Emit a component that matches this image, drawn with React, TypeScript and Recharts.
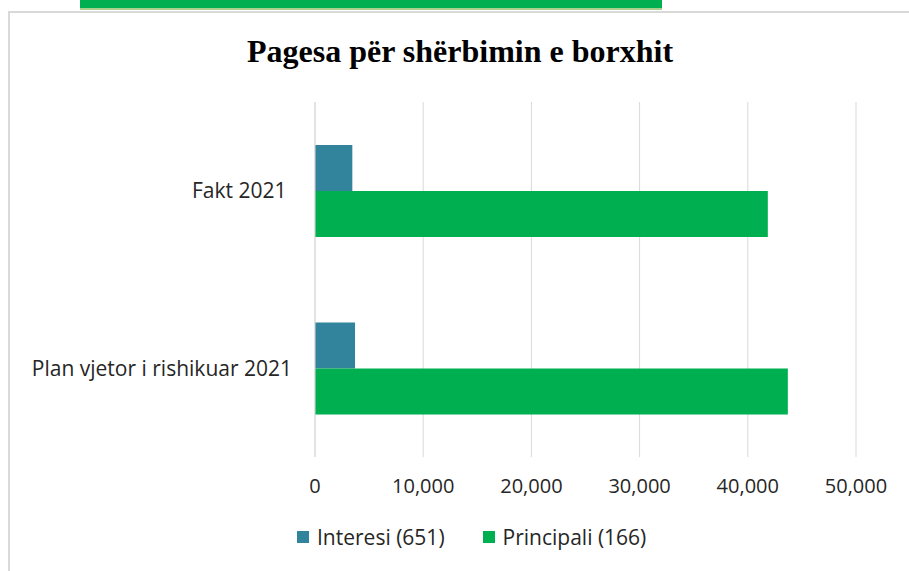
import React from 'react';
import { BarChart, Bar, XAxis, YAxis, CartesianGrid } from 'recharts';

// categories, top to bottom as drawn
const CATEGORIES = ['Fakt 2021\u00a0', 'Plan vjetor i rishikuar 2021'];
const INTERESI = [3450, 3700];
const PRINCIPALI = [41850, 43700];
const X_TICKS = [0, 10000, 20000, 30000, 40000, 50000];

const SERIES = [
  { key: 'interesi', name: 'Interesi (651)', color: '#31849B' },
  { key: 'principali', name: 'Principali (166)', color: '#00B050' },
];

const TEXT = '#262626';
const GRID = '#D9D9D9';
const FONT = '"Open Sans", "Noto Sans", sans-serif';

const chartData = CATEGORIES.map((name, i) => ({
  name,
  interesi: INTERESI[i],
  principali: PRINCIPALI[i],
}));

export default function App() {
  return (
    <div
      style={{
        position: 'absolute',
        left: 0,
        top: 0,
        width: 909,
        height: 571,
        overflow: 'hidden',
        background: '#fff',
        fontFamily: FONT,
      }}
    >
      {/* green strip from the page above */}
      <div
        style={{
          position: 'absolute',
          left: 80,
          top: 0,
          width: 582,
          height: 8,
          background: '#00B050',
          borderBottom: '2px solid #A9D18E',
        }}
      />
      {/* chart frame */}
      <div
        style={{
          position: 'absolute',
          left: 8,
          top: 11,
          width: 1000,
          height: 700,
          border: `2px solid ${GRID}`,
        }}
      />
      {/* title */}
      <div
        style={{
          position: 'absolute',
          left: 10,
          top: 35,
          width: 900,
          textAlign: 'center',
          fontFamily: '"Liberation Serif", "Times New Roman", serif',
          fontWeight: 'bold',
          fontSize: 32,
          lineHeight: '32px',
          color: '#000',
          whiteSpace: 'nowrap',
        }}
      >
        Pagesa për shërbimin e borxhit
      </div>

      <div style={{ position: 'absolute', left: 0, top: 0 }}>
        <BarChart
          width={909}
          height={571}
          data={chartData}
          layout="vertical"
          margin={{ top: 102, right: 53, left: 0, bottom: 74 }}
          barGap={0}
        >
          <CartesianGrid horizontal={false} stroke={GRID} strokeWidth={1} />
          <XAxis
            type="number"
            domain={[0, 50000]}
            ticks={X_TICKS}
            tickFormatter={(v: number) => v.toLocaleString('en-US')}
            axisLine={false}
            tickLine={false}
            tickSize={0}
            tickMargin={22}
            height={40}
            tick={{ fontSize: 20, fill: TEXT, fontFamily: FONT }}
            interval={0}
          />
          <YAxis
            type="category"
            dataKey="name"
            width={315}
            axisLine={{ stroke: GRID }}
            tickLine={false}
            tickSize={0}
            tickMargin={23}
            tick={{ fontSize: 21, fill: TEXT, fontFamily: FONT }}
          />
          {SERIES.map((s) => (
            <Bar
              key={s.key}
              dataKey={s.key}
              name={s.name}
              fill={s.color}
              barSize={46}
              isAnimationActive={false}
            />
          ))}
        </BarChart>
      </div>

      {/* legend */}
      <div
        style={{
          position: 'absolute',
          left: 297,
          top: 523,
          display: 'flex',
          alignItems: 'center',
          fontSize: 21,
          lineHeight: '28px',
          color: TEXT,
          whiteSpace: 'nowrap',
        }}
      >
        {SERIES.map((s, i) => (
          <div
            key={s.key}
            style={{ display: 'flex', alignItems: 'center', marginRight: i === 0 ? 38 : 0 }}
          >
            <span
              style={{ width: 12, height: 12, background: s.color, marginRight: 8, display: 'inline-block' }}
            />
            <span>{s.name}</span>
          </div>
        ))}
      </div>
    </div>
  );
}
